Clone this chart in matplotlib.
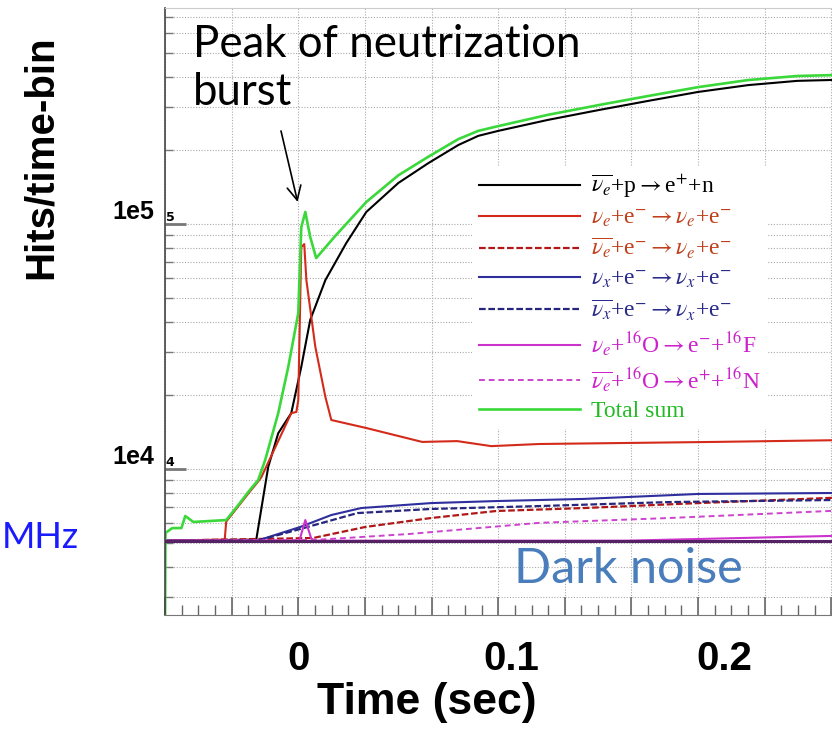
import matplotlib
matplotlib.use("Agg")
from matplotlib import pyplot as plt
from matplotlib.ticker import MultipleLocator, LogLocator, NullFormatter

plt.rcParams['mathtext.fontset'] = 'stix'

W, H, DPI = 832, 731, 100

# ---- data (time in sec, hits per time bin) ----
DARK_NOISE = 5100

T_NUEBAR_P = [-0.0625, -0.0197, -0.0141, -0.0094, -0.0033, 0.0014, 0.0056, 0.0127, 0.0225,
              0.0319, 0.0469, 0.0609, 0.075, 0.0844, 0.0938, 0.117, 0.141, 0.164, 0.1875,
              0.211, 0.234, 0.249, 0.27, 0.30]
HITS_NUEBAR_P = [5100, 5150, 10200, 14000, 16900, 26100, 40600, 59000, 83600,
                 112000, 147000, 177000, 210000, 229000, 240000, 266000, 292000, 318000, 346000,
                 369000, 384000, 387000, 391000, 391000]

T_NUE_E = [-0.0625, -0.0345, -0.0338, -0.0281, -0.0234, -0.0188, -0.0173, -0.0033, -0.0009, 0.0,
           0.0014, 0.0028, 0.0038, 0.0080, 0.0127, 0.0155, 0.0319, 0.0581, 0.0745, 0.0905,
           0.113, 0.195, 0.249, 0.30]
HITS_NUE_E = [5100, 5150, 6100, 7050, 7950, 8900, 9270, 16900, 17100, 19100,
              80500, 82800, 59000, 31500, 19700, 15850, 14700, 12900, 13000, 12400,
              12650, 12900, 13100, 13200]

T_NUEBAR_E = [-0.0625, 0.0070, 0.0314, 0.0623, 0.0928, 0.134, 0.1875, 0.249, 0.30]
HITS_NUEBAR_E = [5100, 5230, 5800, 6310, 6740, 6930, 7260, 7620, 7800]

T_NUX_E = [-0.0625, -0.0192, 0.0009, 0.0155, 0.0295, 0.0623, 0.0928, 0.134, 0.1875, 0.249, 0.30]
HITS_NUX_E = [5100, 5100, 5800, 6490, 6930, 7260, 7400, 7550, 7910, 7980, 8000]

T_NUXBAR_E = [-0.0625, -0.0192, 0.0009, 0.0277, 0.0623, 0.113, 0.174, 0.249, 0.30]
HITS_NUXBAR_E = [5100, 5100, 5690, 6610, 6870, 7060, 7330, 7470, 7500]

T_NUE_O = [-0.0625, 0.0005, 0.0033, 0.0061, 0.0084, 0.154, 0.249, 0.30]
HITS_NUE_O = [5100, 5100, 6190, 5200, 5100, 5100, 5330, 5400]

T_NUEBAR_O = [-0.0625, 0.0070, 0.052, 0.113, 0.174, 0.249, 0.30]
HITS_NUEBAR_O = [5100, 5130, 5430, 6030, 6310, 6740, 6900]

T_TOTAL = [-0.0625, -0.0623, -0.0591, -0.0548, -0.0530, -0.0492, -0.0338, -0.0281, -0.0234,
           -0.0188, -0.0155, -0.0094, -0.0047, 0.0, 0.0014, 0.0033, 0.0056, 0.0084, 0.0173,
           0.0319, 0.0469, 0.0609, 0.075, 0.0844, 0.0938, 0.117, 0.141, 0.164, 0.1875,
           0.211, 0.234, 0.249, 0.27, 0.30]
HITS_TOTAL = [2000, 5480, 5740, 5740, 6430, 6080, 6190, 7130, 8070,
              9020, 10900, 16900, 26100, 43300, 97000, 112000, 88500, 72600, 89300,
              123000, 158000, 188000, 222000, 240000, 251000, 279000, 306000, 333000, 362000,
              387000, 402000, 405000, 409000, 409000]

LEGEND_LABELS = [
    r'$\overline{\nu_e}$+p$\rightarrow$e$^{+}$+n',
    r'$\nu_e$+e$^{-}$$\rightarrow$$\nu_e$+e$^{-}$',
    r'$\overline{\nu_e}$+e$^{-}$$\rightarrow$$\nu_e$+e$^{-}$',
    r'$\nu_x$+e$^{-}$$\rightarrow$$\nu_x$+e$^{-}$',
    r'$\overline{\nu_x}$+e$^{-}$$\rightarrow$$\nu_x$+e$^{-}$',
    r'$\nu_e$+$^{16}$O$\rightarrow$e$^{-}$+$^{16}$F',
    r'$\overline{\nu_e}$+$^{16}$O$\rightarrow$e$^{+}$+$^{16}$N',
    'Total sum',
]
LEGEND_TEXT_COLORS = ['black', '#c0401e', '#c0401e', '#2a2a8a', '#2a2a8a', '#cc22cc', '#cc22cc', '#22bb22']

X_TICKS = [0, 0.1, 0.2]
X_TICK_LABELS = ['0', '0.1', '0.2']
Y_TICKS = [1e4, 1e5]
Y_TICK_LABELS = ['1e4', '1e5']
Y_ROOT_LABELS = ['4', '5']

fig = plt.figure(figsize=(W / DPI, H / DPI), dpi=DPI)
ax = fig.add_axes([165 / W, 1 - 615 / H, 773 / W, 607 / H])
ax.set_yscale('log')
ax.set_xlim(-0.0625, 0.30)
ax.set_ylim(2536, 761600)

series = [
    (T_NUEBAR_P, HITS_NUEBAR_P, 'black', '-', 1.5),
    (T_NUE_E, HITS_NUE_E, '#d42a1a', '-', 1.5),
    (T_NUEBAR_E, HITS_NUEBAR_E, '#b01818', (0, (3, 1.2)), 1.6),
    (T_NUX_E, HITS_NUX_E, '#2e2e9e', '-', 1.5),
    (T_NUXBAR_E, HITS_NUXBAR_E, '#26267e', (0, (3, 1.2)), 1.6),
    (T_NUE_O, HITS_NUE_O, '#cc33cc', '-', 1.5),
    (T_NUEBAR_O, HITS_NUEBAR_O, '#cc44cc', (0, (3, 2)), 1.4),
    (T_TOTAL, HITS_TOTAL, '#3ad83a', '-', 1.9),
]
handles = []
for t, h, c, ls, lw in series:
    ln, = ax.plot(t, h, color=c, linestyle=ls, lw=lw)
    handles.append(ln)

ax.axhline(DARK_NOISE, color='#552266', lw=2.2, zorder=3)

# axes styling (ROOT-like)
ax.xaxis.set_major_locator(MultipleLocator(0.03125))
ax.xaxis.set_minor_locator(MultipleLocator(0.0078125))
ax.tick_params(axis='x', which='major', direction='in', length=13, width=1.2, color='#666666', labelbottom=False)
ax.tick_params(axis='x', which='minor', direction='in', length=7, width=1, color='#666666')
ax.set_yticks(Y_TICKS, Y_TICK_LABELS, fontsize=18, fontweight='bold', va='bottom',
              family='Liberation Sans')
ax.yaxis.set_minor_locator(LogLocator(base=10, subs=range(2, 10)))
ax.yaxis.set_minor_formatter(NullFormatter())
ax.tick_params(axis='y', which='major', direction='in', length=15, width=2, color='#777777', pad=8)
ax.tick_params(axis='y', which='minor', direction='in', length=6, width=1, color='#777777')
ax.grid(which='major', color='#aaaaaa', linestyle=(0, (1, 1.5)), lw=0.8)
ax.grid(which='minor', axis='y', color='#aaaaaa', linestyle=(0, (1, 1.5)), lw=0.8)
for v, s in zip(Y_TICKS, Y_ROOT_LABELS):
    ax.text(0.001, v, s, transform=ax.get_yaxis_transform(), va='bottom', ha='left',
            fontsize=9, fontweight='bold')
ax.spines['left'].set_color('#444444')
ax.spines['left'].set_linewidth(1.2)
ax.spines['bottom'].set_color('#777777')
ax.spines['top'].set_color('#cccccc')

sec = ax.secondary_xaxis('bottom')
sec.set_xticks(X_TICKS, X_TICK_LABELS, fontsize=29, fontweight='bold', family='Liberation Sans')
sec.tick_params(length=0, pad=18)
sec.spines['bottom'].set_visible(False)

ax.set_xlabel('Time (sec)', fontsize=32, fontweight='bold', family='Liberation Sans')
ax.xaxis.set_label_coords((427 - 165) / 773, -(682 - 615) / 607)
ax.set_ylabel('Hits/time-bin', fontsize=29, fontweight='bold', family='Liberation Sans')
ax.yaxis.set_label_coords(-(165 - 60) / 773, (615 - 157) / 607)

leg = ax.legend(handles, LEGEND_LABELS, loc='upper left', bbox_to_anchor=(460 / W, 1 - 154 / H),
                bbox_transform=fig.transFigure, frameon=True, facecolor='white', edgecolor='none',
                framealpha=1, fancybox=False, handlelength=4.3, handletextpad=0.45,
                labelspacing=0.3, borderpad=0.3, prop={'family': 'Liberation Serif', 'size': 17})
for txt, c in zip(leg.get_texts(), LEGEND_TEXT_COLORS):
    txt.set_color(c)

# slide annotations
fig.text(193 / W, 1 - 24 / H, 'Peak of neutrization\nburst', ha='left', va='top',
         fontsize=31.5, family='Lato', linespacing=1.2)
ax.annotate('', xy=(0.0, 120000), xytext=(-0.0084, 246000),
            arrowprops=dict(arrowstyle='->', color='black', lw=1.2, mutation_scale=25))
fig.text(628 / W, 1 - 569 / H, 'Dark noise', ha='center', va='center', fontsize=35,
         family='Lato', color='#4a7dbb')
fig.text(2 / W, 1 - 537 / H, 'MHz', ha='left', va='center', fontsize=26,
         family='Lato', color='#1a1aff')

fig.savefig('out.png', dpi=DPI)
